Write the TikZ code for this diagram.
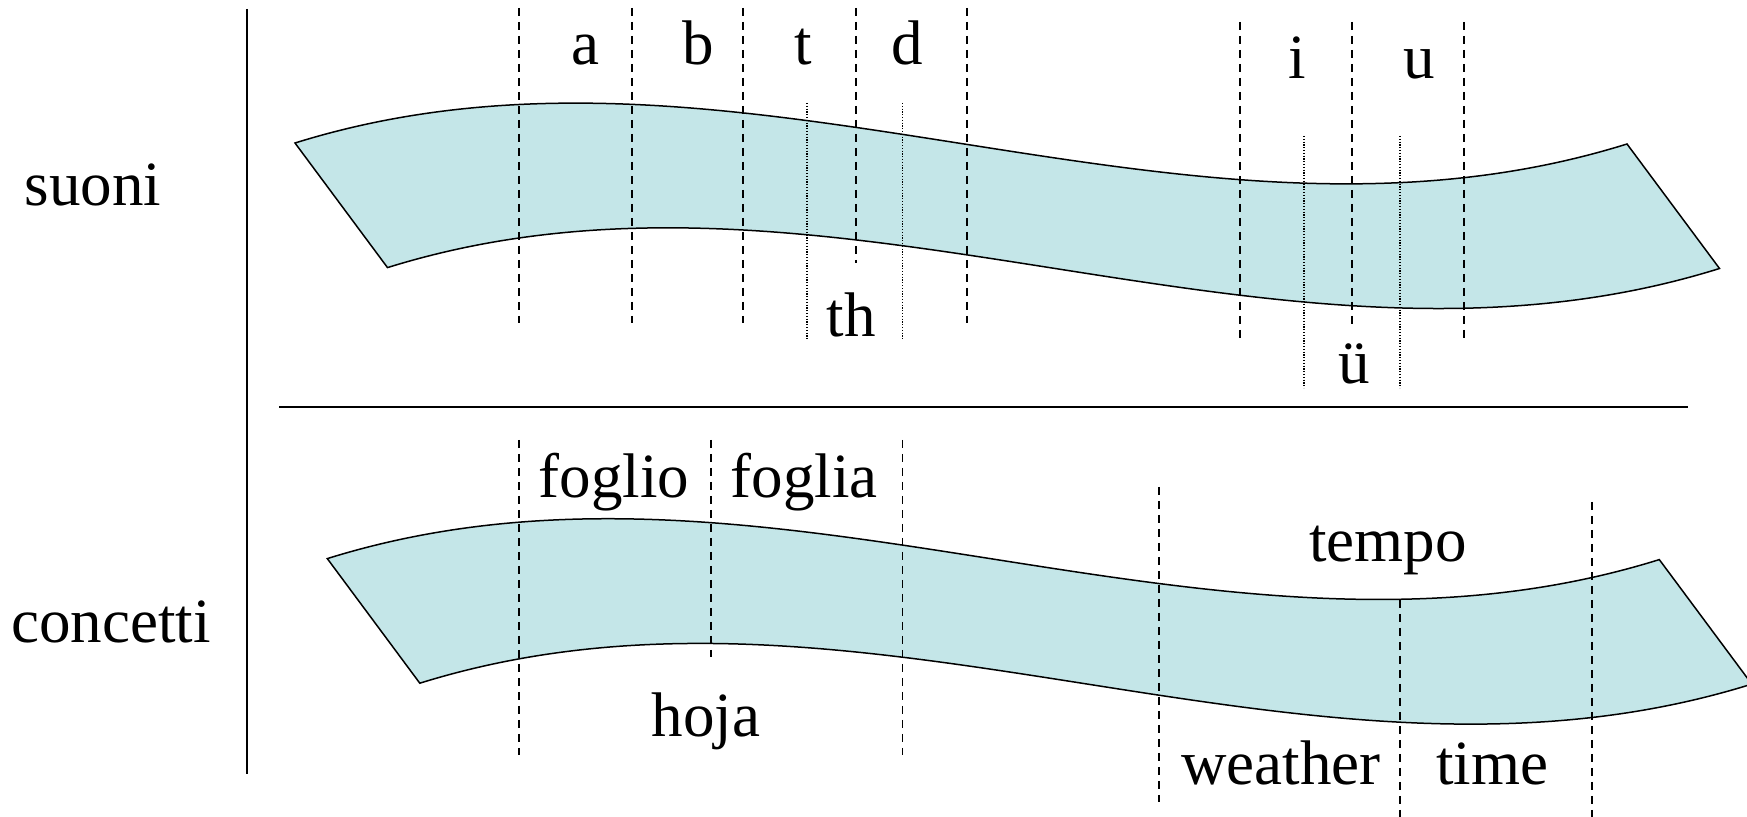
\documentclass[tikz,border=0pt]{standalone}
\usepackage{fontspec}
\setmainfont{Liberation Serif}
\newfontfamily\labfont{Liberation Serif}
\definecolor{bandfill}{RGB}{196,230,232}
\begin{document}
\begin{tikzpicture}[x=0.5pt,y=-0.5pt,
  band/.style={fill=bandfill,draw=black,line width=0.75pt,line join=miter},
  sep/.style={draw=black,line width=0.6pt,dash pattern=on 4pt off 3pt},
  dots/.style={draw=black,line width=0.6pt,dash pattern=on 0.6pt off 0.8pt},
  rulel/.style={draw=black,line width=1pt},
  lab/.style={anchor=base,inner sep=0pt,font=\labfont\fontsize{31.5}{36}\selectfont}]
\useasboundingbox (0,0) rectangle (1747,817);
% bands
\path[band] (295,143) .. controls (739,4.5) and (1183,282.5) .. (1627,144)
  -- (1719.5,268.5) .. controls (1275.5,407.3) and (831.5,129.3) .. (387.5,267.6) -- cycle;
\begin{scope}[shift={(32.3,415.6)}]
\path[band] (295,143) .. controls (739,4.5) and (1183,282.5) .. (1627,144)
  -- (1719.5,268.5) .. controls (1275.5,407.3) and (831.5,129.3) .. (387.5,267.6) -- cycle;
\end{scope}
% rules
\coordinate (vt) at (247,9); \coordinate (vb) at (247,774);
\coordinate (hl) at (279,407); \coordinate (hr) at (1688,407);
\draw[rulel] (vt) -- (vb);
\draw[rulel] (hl) -- (hr);
% top separators
\foreach \x/\ya/\yb in {519/8/323, 632/8/323, 743/8/323, 856/8/263, 967/8/323,
  1240/22/338, 1352/22/325, 1464/22/338}
  \draw[sep] (\x,\ya) -- (\x,\yb);
\foreach \x/\ya/\yb in {807/103/340, 902.5/103/340, 1304/136/388, 1400/136/388}
  \draw[dots] (\x,\ya) -- (\x,\yb);
% bottom separators
\foreach \x/\ya/\yb in {519/440/755, 711/440/657, 902.5/440/755,
  1159/487/802, 1400/600/817, 1592/502/817}
  \draw[sep] (\x,\ya) -- (\x,\yb);
% labels
\node[lab] (suoni) at (93,206) {suoni};
\node[lab] (concetti) at (111,643) {concetti};
\node[lab] (la) at (585,65) {a};
\node[lab] (lb) at (698,65) {b};
\node[lab] (lt) at (803.5,65) {t};
\node[lab] (ld) at (907,65) {d};
\node[lab] (lth) at (851,337) {th};
\node[lab] (li) at (1297,79) {i};
\node[lab] (lu) at (1419,79) {u};
\node[lab] (lue) at (1354,384) {ü};
\node[lab] (foglio) at (614,498) {foglio};
\node[lab] (foglia) at (804,498) {foglia};
\node[lab] (hoja) at (706,737) {hoja};
\node[lab] (tempo) at (1388,562) {tempo};
\node[lab] (weather) at (1281,785) {weather};
\node[lab] (time) at (1492,785) {time};
\end{tikzpicture}
\end{document}
